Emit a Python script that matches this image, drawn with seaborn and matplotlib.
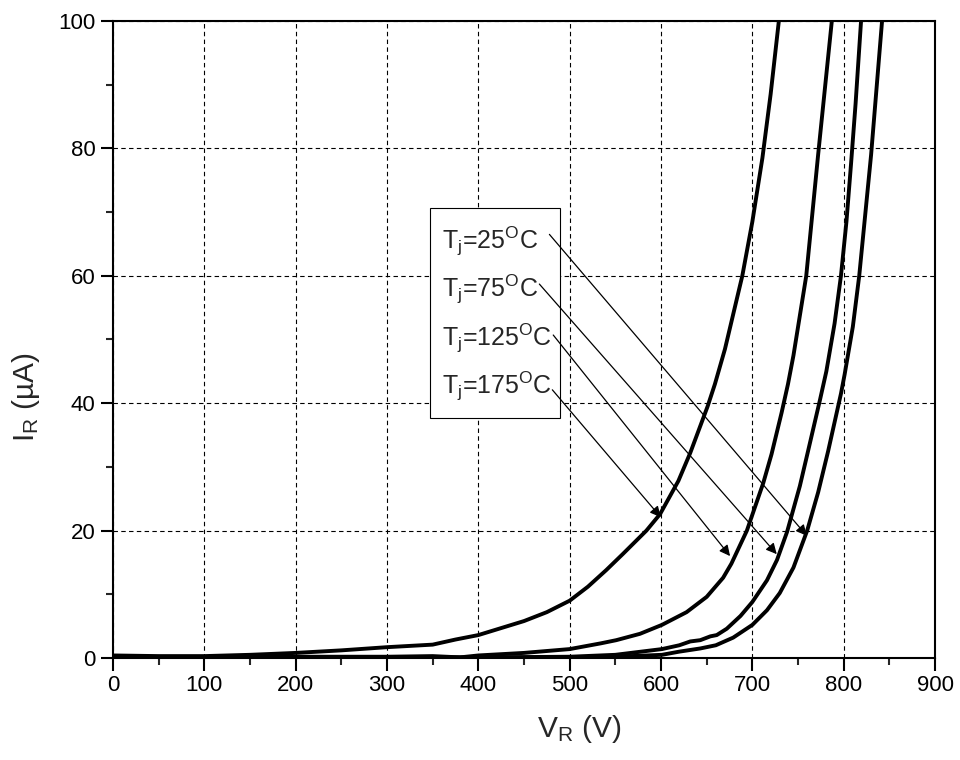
import matplotlib
matplotlib.use("Agg")
import matplotlib.pyplot as plt
from matplotlib.ticker import MultipleLocator
from matplotlib.patches import Rectangle
import seaborn as sns
import pandas as pd

# ---- data ----
V175 = [0, 50, 100, 150, 200, 250, 300, 350, 375, 400, 425, 450, 475, 500, 520, 540, 558,
        584, 599, 619, 632, 651, 659, 670, 689, 700, 711, 720, 729]
I175 = [0.4, 0.3, 0.3, 0.5, 0.8, 1.2, 1.7, 2.1, 2.9, 3.6, 4.7, 5.8, 7.2, 9.0, 11.2, 13.8, 16.3,
        20.0, 22.6, 27.8, 32.2, 39.5, 43.0, 48.5, 60.0, 68.5, 78.5, 88.5, 100.0]

V125 = [0, 100, 200, 300, 350, 380, 400, 450, 500, 534, 551, 577, 601, 628, 650, 668, 677,
        694, 712, 721, 732, 739, 745, 759, 772, 787]
I125 = [0.1, 0.1, 0.2, 0.2, 0.3, 0.1, 0.4, 0.8, 1.4, 2.3, 2.8, 3.8, 5.2, 7.2, 9.6, 12.6, 14.8,
        20.0, 27.5, 32.0, 38.5, 43.0, 47.5, 60.0, 79.0, 100.0]

V75 = [0, 100, 200, 300, 400, 500, 550, 601, 620, 632, 643, 654, 661, 672, 687, 700, 716, 727,
       738, 752, 761, 774, 781, 790, 797, 803, 808, 813, 819]
I75 = [0.1, 0.1, 0.1, 0.1, 0.1, 0.2, 0.5, 1.4, 2.0, 2.6, 2.8, 3.4, 3.6, 4.6, 6.6, 8.8, 12.2, 15.4,
       19.8, 27.0, 32.5, 40.5, 45.0, 52.5, 60.0, 68.5, 77.5, 87.0, 100.0]

V25 = [0, 100, 200, 300, 400, 500, 550, 601, 620, 643, 660, 679, 700, 716, 730, 745, 760, 772,
       783, 797, 801, 810, 817, 830, 842]
I25 = [0.05, 0.05, 0.05, 0.05, 0.05, 0.1, 0.2, 0.5, 1.0, 1.5, 2.0, 3.2, 5.2, 7.5, 10.2, 14.2,
       20.0, 26.0, 32.5, 41.5, 44.5, 52.0, 60.0, 79.0, 100.0]

labels = [r"T$_\mathregular{j}$=25$^\mathregular{O}$C",
          r"T$_\mathregular{j}$=75$^\mathregular{O}$C",
          r"T$_\mathregular{j}$=125$^\mathregular{O}$C",
          r"T$_\mathregular{j}$=175$^\mathregular{O}$C"]
x_ticks = [0, 100, 200, 300, 400, 500, 600, 700, 800, 900]
y_ticks = [0, 20, 40, 60, 80, 100]

# ---- style ----
sns.set_style("ticks")
plt.rcParams["font.family"] = ["Liberation Sans", "DejaVu Sans"]
plt.rcParams["mathtext.fontset"] = "custom"
plt.rcParams["mathtext.rm"] = "Liberation Sans"
plt.rcParams["mathtext.it"] = "Liberation Sans:italic"

fig = plt.figure(figsize=(9.6, 7.6), dpi=100)
ax = fig.add_axes([0.1177, 0.1342, 0.8563, 0.8382])

curves = [(V25, I25), (V75, I75), (V125, I125), (V175, I175)]
for V, I in curves:
    df = pd.DataFrame({"V": V, "I": I})
    sns.lineplot(data=df, x="V", y="I", ax=ax, color="black", lw=2.8,
                 sort=False, estimator=None)
for ln in ax.lines:
    ln.set_solid_joinstyle("round")
    ln.set_solid_capstyle("butt")

ax.set_xlim(0, 900)
ax.set_ylim(0, 100)
ax.set_xticks(x_ticks)
ax.set_yticks(y_ticks)
ax.xaxis.set_minor_locator(MultipleLocator(50))
ax.yaxis.set_minor_locator(MultipleLocator(10))
ax.tick_params(which="major", direction="out", length=9, width=1.5,
               labelsize=16, top=False, right=False, colors="black")
ax.tick_params(which="minor", direction="out", length=5, width=1.5,
               top=False, right=False)
for s in ax.spines.values():
    s.set_linewidth(1.5)
    s.set_color("black")
    s.set_visible(True)

ax.grid(True, which="major", color="black", lw=0.8, ls=(0, (4, 3)))
ax.set_axisbelow(True)

ax.set_xlabel(r"V$_\mathregular{R}$ (V)", fontsize=21.5, labelpad=12)
ax.set_ylabel(r"I$_\mathregular{R}$ (µA)", fontsize=21.5, labelpad=12)
ax.xaxis.label.set_x(0.567)
ax.yaxis.label.set_y(0.41)

# annotation box
ax.add_patch(Rectangle((0.386, 0.377), 0.158, 0.329, transform=ax.transAxes,
                       fill=True, facecolor="white", edgecolor="black", lw=0.8, zorder=3))
text_y = [64.3, 56.7, 49.0, 41.4]
for lab, ty in zip(labels, text_y):
    ax.text(360, ty, lab, fontsize=18, ha="left", va="baseline", zorder=4)

tails = [(477.8, 66.5), (466.8, 58.7), (482.0, 50.7), (481.0, 42.1)]
heads = [(759.5, 19.2), (726.7, 16.3), (675.6, 16.0), (599.7, 22.1)]
for t, h in zip(tails, heads):
    ax.annotate("", xy=h, xytext=t,
                arrowprops=dict(arrowstyle="-|>", color="black", lw=0.9,
                                mutation_scale=16, shrinkA=0, shrinkB=0),
                zorder=5)

fig.savefig("out.png", dpi=100)
